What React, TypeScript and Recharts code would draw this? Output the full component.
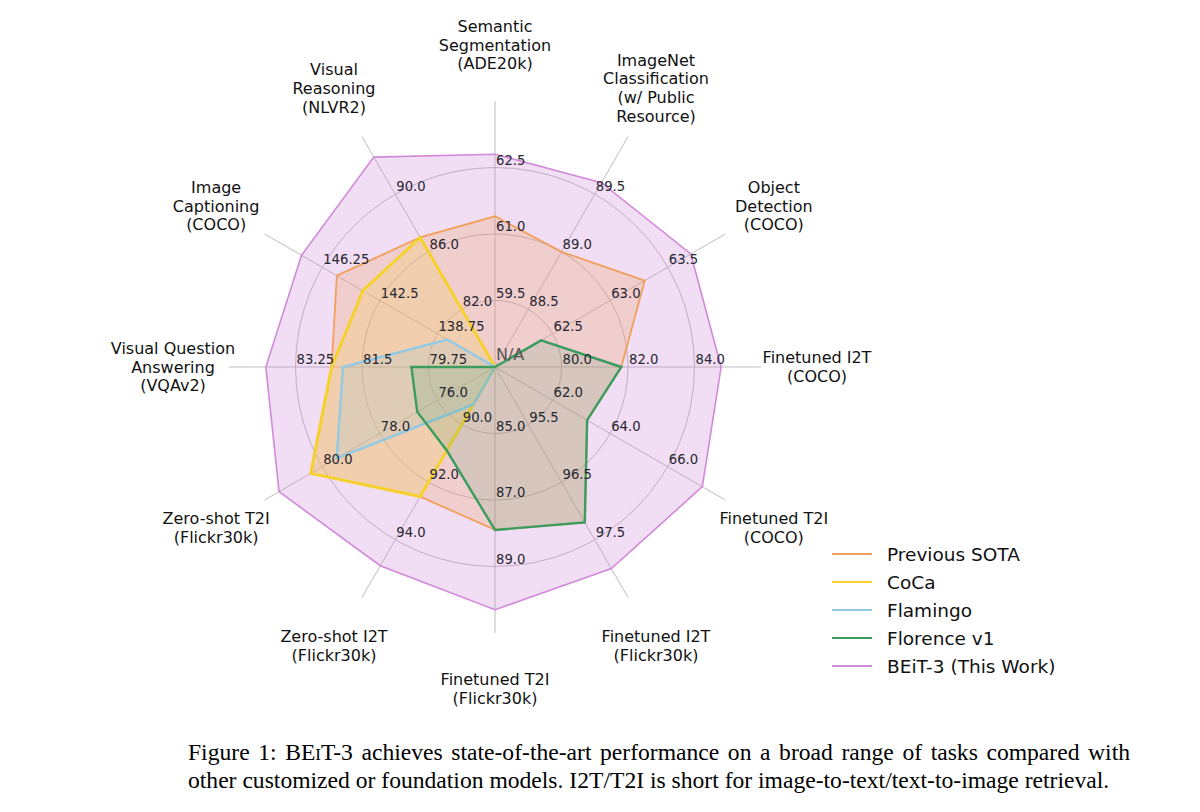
import React from "react";
import {
  RadarChart,
  Radar,
  PolarGrid,
  PolarAngleAxis,
  PolarRadiusAxis,
  Legend,
} from "recharts";

// task labels, clockwise from the top
const tasks = [
  "Semantic\nSegmentation\n(ADE20k)",
  "ImageNet\nClassification\n(w/ Public\nResource)",
  "Object\nDetection\n(COCO)",
  "Finetuned I2T\n(COCO)",
  "Finetuned T2I\n(COCO)",
  "Finetuned I2T\n(Flickr30k)",
  "Finetuned T2I\n(Flickr30k)",
  "Zero-shot I2T\n(Flickr30k)",
  "Zero-shot T2I\n(Flickr30k)",
  "Visual Question\nAnswering\n(VQAv2)",
  "Image\nCaptioning\n(COCO)",
  "Visual\nReasoning\n(NLVR2)",
];

// ring labels of each spoke (rings 1..3)
const tickLabels = [
  ["59.5", "61.0", "62.5"],
  ["88.5", "89.0", "89.5"],
  ["62.5", "63.0", "63.5"],
  ["80.0", "82.0", "84.0"],
  ["62.0", "64.0", "66.0"],
  ["95.5", "96.5", "97.5"],
  ["85.0", "87.0", "89.0"],
  ["90.0", "92.0", "94.0"],
  ["76.0", "78.0", "80.0"],
  ["79.75", "81.5", "83.25"],
  ["138.75", "142.5", "146.25"],
  ["82.0", "86.0", "90.0"],
];

// null = N/A (drawn at the centre)
const previousSota = [61.4, 89.0, 63.3, 81.8, 63.2, 97.2, 87.9, 92.5, 80.4, 82.3, 145.3, 87.0];
const coca = [null, null, null, null, null, null, null, 92.5, 80.4, 82.3, 143.6, 87.0];
const flamingo = [null, null, null, null, null, null, null, 89.3, 79.5, 82.0, 138.1, null];
const florence = [null, null, 62.4, 81.8, 63.2, 97.2, 87.9, 90.9, 76.7, 80.2, null, null];
const beit3 = [62.8, 89.6, 63.7, 84.8, 67.2, 98.0, 90.3, 94.9, 81.5, 84.03, 147.6, 92.58];

const legendOrder = ["Previous SOTA", "CoCa", "Flamingo", "Florence v1", "BEiT-3 (This Work)"];

// each spoke has its own scale: ring k sits at tick k
function norm(v: number | null, i: number) {
  if (v == null) return 0;
  const t1 = Number(tickLabels[i][0]);
  const t2 = Number(tickLabels[i][1]);
  const step = t2 - t1;
  return (v - (t1 - step)) / step;
}

const table = tasks.map((task, i) => ({
  task,
  prev: norm(previousSota[i], i),
  coca: norm(coca[i], i),
  flamingo: norm(flamingo[i], i),
  florence: norm(florence[i], i),
  beit3: norm(beit3[i], i),
}));

const series = [
  { key: "beit3", name: "BEiT-3 (This Work)", color: "#d18ad9", width: 1.6, opacity: 0.28 },
  { key: "prev", name: "Previous SOTA", color: "#f0a05c", width: 1.8, opacity: 0.25 },
  { key: "coca", name: "CoCa", color: "#f6d12e", width: 3, opacity: 0.2 },
  { key: "flamingo", name: "Flamingo", color: "#92c9e3", width: 2.4, opacity: 0.18 },
  { key: "florence", name: "Florence v1", color: "#3b9c5e", width: 2.4, opacity: 0.15 },
];

// one radius-axis tick = one ring; write that ring's label on every spoke
function RingTick(props: any) {
  const { x, y, payload } = props;
  const v = payload.value;
  const r = payload.coordinate != null ? payload.coordinate : props.cy - y;
  const cx = x;
  const cy = y + r;
  if (v === 0) {
    return (
      <text x={cx + 1} y={cy - 7} fontSize={16} fill="#555" textAnchor="start">
        N/A
      </text>
    );
  }
  if (v < 1 || v > 3) return <g />;
  return (
    <g>
      {tickLabels.map((labels, i) => {
        const a = (2 * Math.PI * i) / tasks.length;
        return (
          <text
            key={i}
            x={cx + r * Math.sin(a) + 1}
            y={cy - r * Math.cos(a) - 3}
            fontSize={13.2}
            fill="#262630"
            textAnchor="start"
          >
            {labels[v - 1]}
          </text>
        );
      })}
    </g>
  );
}

function TaskTick(props: any) {
  const { x, y, payload } = props;
  const lines = String(payload.value).split("\n");
  const lh = 18.8;
  return (
    <text x={x} y={y} textAnchor="middle" fontSize={16} fill="#111">
      {lines.map((l, k) => (
        <tspan key={k} x={x} dy={k === 0 ? -((lines.length - 1) / 2) * lh + 5.6 : lh}>
          {l}
        </tspan>
      ))}
    </text>
  );
}

function LegendBox(props: any) {
  const payload = props.payload || [];
  const items = legendOrder
    .map((n) => payload.find((p: any) => p.value === n))
    .filter(Boolean);
  return (
    <div style={{ fontFamily: "DejaVu Sans", fontSize: 18.5, color: "#111" }}>
      {items.map((it: any) => (
        <div key={it.value} style={{ display: "flex", alignItems: "center", height: 28 }}>
          <svg width={40} height={6}>
            <line x1={0} y1={3} x2={40} y2={3} stroke={it.color} strokeWidth={2} />
          </svg>
          <span style={{ marginLeft: 15 }}>{it.value}</span>
        </div>
      ))}
    </div>
  );
}

export default function App() {
  return (
    <div
      style={{
        position: "absolute",
        left: 0,
        top: 0,
        width: 1200,
        height: 812,
        background: "#fff",
        fontFamily: "DejaVu Sans",
      }}
    >
      <RadarChart
        width={1200}
        height={720}
        data={table}
        cx={495}
        cy={367}
        outerRadius={266}
        startAngle={90}
        endAngle={-270}
        margin={{ top: 0, right: 0, bottom: 0, left: 0 }}
      >
        <PolarGrid gridType="circle" stroke="#bcbcbc" strokeWidth={1} />
        <PolarRadiusAxis
          domain={[0, 4]}
          ticks={[0, 1, 2, 3]}
          tickCount={5}
          axisLine={false}
          angle={90}
          tick={(p: any) => <RingTick {...p} />}
        />
        {series.map((s) => (
          <Radar
            key={s.key}
            dataKey={s.key}
            name={s.name}
            stroke={s.color}
            strokeWidth={s.width}
            fill={s.color}
            fillOpacity={s.opacity}
            legendType="line"
            dot={false}
            isAnimationActive={false}
          />
        ))}
        <PolarAngleAxis
          dataKey="task"
          tickLine={false}
          tickSize={56}
          axisLine={false}
          tick={(p: any) => <TaskTick {...p} />}
        />
        <Legend
          layout="vertical"
          align="right"
          verticalAlign="top"
          wrapperStyle={{ left: 832, top: 540, right: "auto", bottom: "auto", width: 260 }}
          content={(p: any) => <LegendBox {...p} />}
        />
      </RadarChart>
      <div
        style={{
          position: "absolute",
          left: 188,
          top: 738,
          fontFamily: "'Liberation Serif', 'Times New Roman', serif",
          fontSize: 23.6,
          lineHeight: "28px",
          color: "#000",
          whiteSpace: "nowrap",
        }}
      >
        <div style={{ width: 942, textAlign: "justify", textAlignLast: "justify" }}>
          Figure 1: BE<span style={{ fontVariant: "small-caps" }}>i</span>T-3 achieves
          state-of-the-art performance on a broad range of tasks compared with
        </div>
        <div>
          other customized or foundation models. I2T/T2I is short for
          image-to-text/text-to-image retrieval.
        </div>
      </div>
    </div>
  );
}
